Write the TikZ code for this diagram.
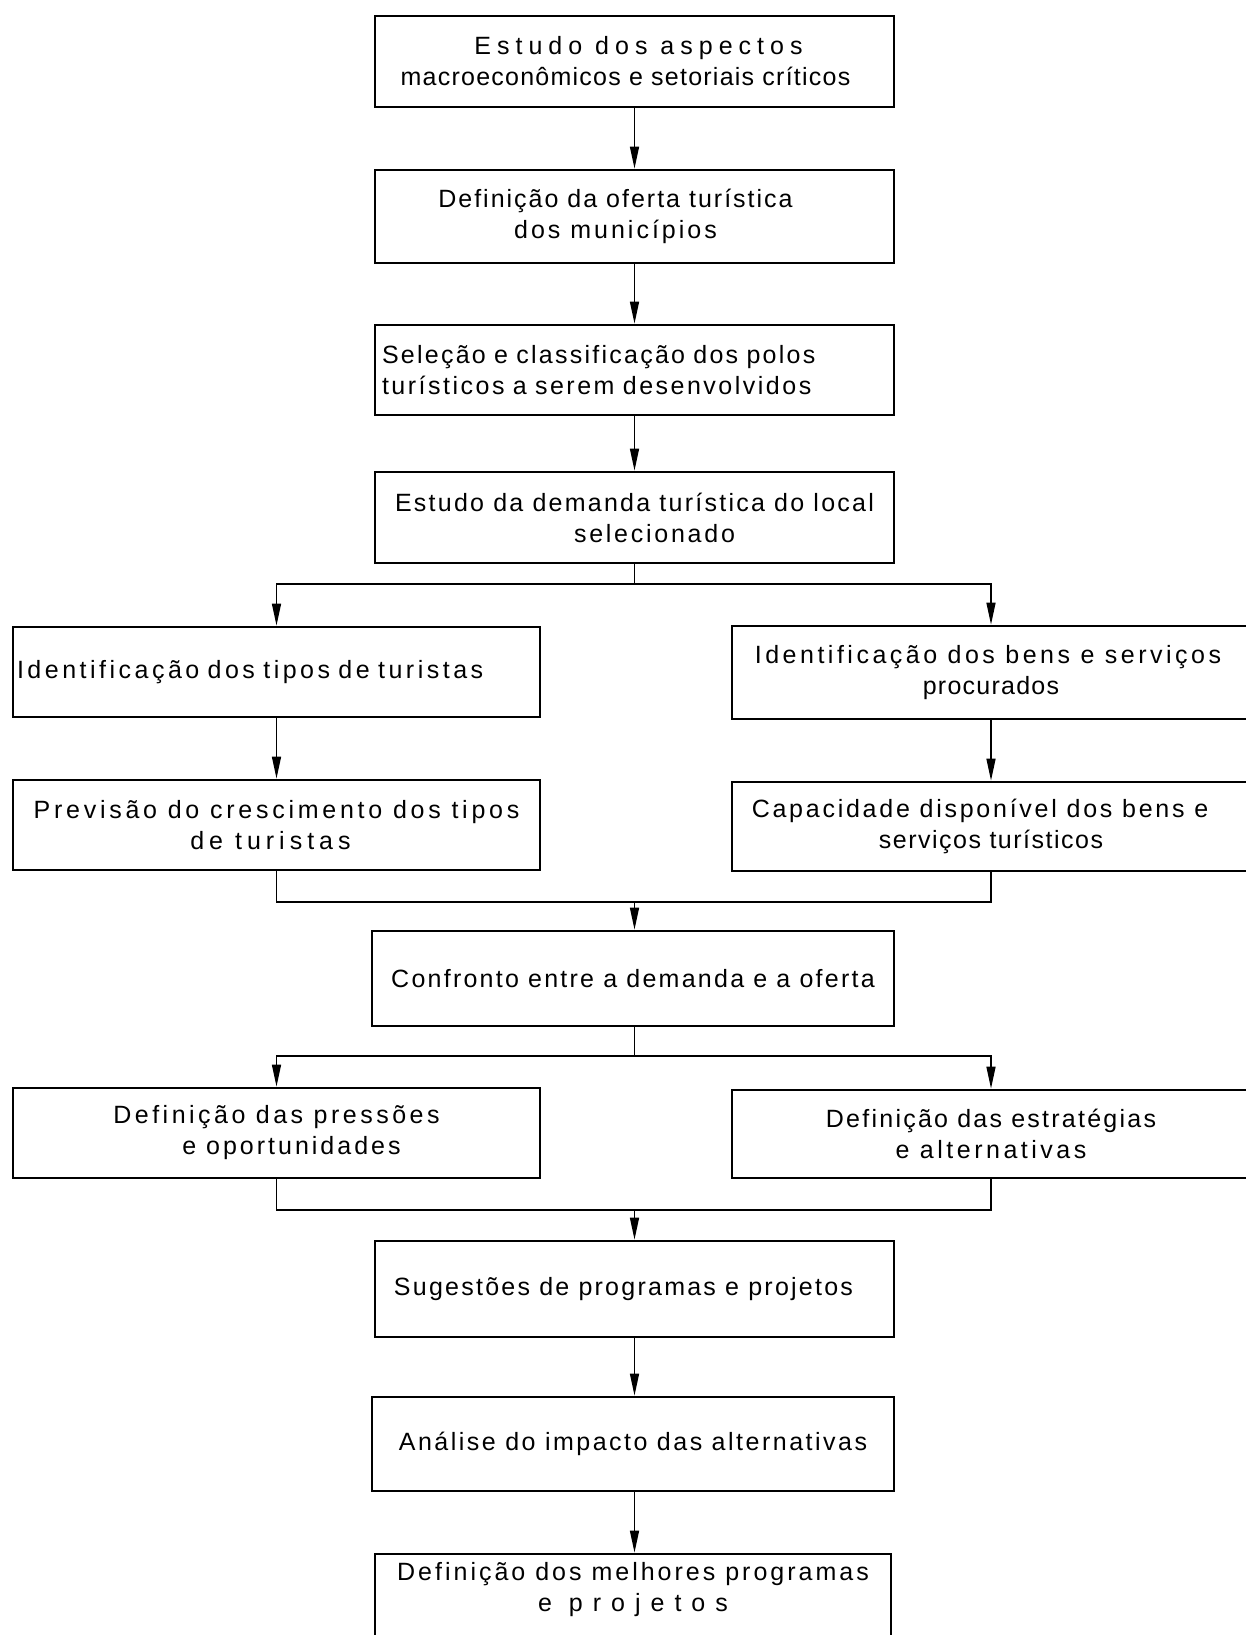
\documentclass[tikz,border=0pt]{standalone}
\usepackage{fontspec}
\setmainfont{Liberation Sans}[LetterSpace=5]
\usetikzlibrary{arrows.meta}
\newcommand\ls[2]{{\addfontfeature{LetterSpace=#1}#2}}
\begin{document}
\begin{tikzpicture}[x=1pt,y=-1pt,
  box/.style={draw, line width=2.8pt, inner sep=3pt, align=center,
    font=\fontsize{25}{31}\selectfont},
  conn/.style={line width=1.5pt},
  arr/.style={conn, -{Triangle[length=22pt,width=9pt]}}]
\useasboundingbox (0,0) rectangle (1246,1635);
\clip (0,0) rectangle (1246,1635);
\fill[white] (0,0) rectangle (1246,1635);

% central column
\node[box, minimum width=519pt, minimum height=91pt] (b1) at (634.5,61.5)
  {\hspace*{8pt}\ls{24}{Estudo dos aspectos}\\macroeconômicos e setoriais críticos\hspace*{18pt}};
\node[box, minimum width=519pt, minimum height=93pt] (b2) at (634.5,216.5)
  {\ls{8}{Definição da oferta turística}\hspace*{38pt}\\\ls{12}{dos municípios}\hspace*{38pt}};
\node[box, minimum width=519pt, minimum height=90pt, text width=505pt, align=left] (b3) at (634.5,370)
  {\ls{9}{Seleção e classificação dos polos}\\\ls{10}{turísticos a serem desenvolvidos}};
\node[box, minimum width=519pt, minimum height=91pt] (b4) at (634.5,517.5)
  {\ls{9}{Estudo da demanda turística do local}\\\hspace*{40pt}\ls{11}{selecionado}};

% first split
\node[box, minimum width=527pt, minimum height=90pt, text width=519pt, align=left] (l5) at (276.5,672)
  {\ls{14}{Identificação dos tipos de turistas}};
\node[box, minimum width=518pt, minimum height=93pt] (r5) at (991,672.5)
  {\ls{14}{Identificação dos bens e serviços}\hspace*{6pt}\\procurados};
\node[box, minimum width=527pt, minimum height=90pt] (l6) at (276.5,825)
  {\ls{15}{Previsão do crescimento dos tipos}\\\ls{20}{de turistas}\hspace*{12pt}};
\node[box, minimum width=518pt, minimum height=89pt] (r6) at (991,826.5)
  {\ls{11}{Capacidade disponível dos bens e}\hspace*{22pt}\\\ls{6}{serviços turísticos}};

\node[box, minimum width=522pt, minimum height=95pt] (b7) at (633,978.5)
  {\ls{9}{Confronto entre a demanda e a oferta}};

% second split
\node[box, minimum width=527pt, minimum height=90pt] (l8) at (276.5,1133)
  {\ls{14}{Definição das pressões}\\\hspace*{30pt}\ls{12}{e oportunidades}};
\node[box, minimum width=518pt, minimum height=88pt] (r8) at (991,1134)
  {\ls{9}{Definição das estratégias}\\\ls{14}{e alternativas}};

\node[box, minimum width=519pt, minimum height=96pt] (b9) at (634.5,1289)
  {\ls{9}{Sugestões de programas e projetos}\hspace*{22pt}};
\node[box, minimum width=522pt, minimum height=94pt] (b10) at (633,1444)
  {\ls{10}{Análise do impacto das alternativas}};
\node[box, minimum width=516pt, minimum height=106pt] (b11) at (633,1607)
  {\ls{12}{Definição dos melhores programas}\\\ls{40}{e projetos}\\\strut};

% connectors
\draw[arr] (b1) -- (b2);
\draw[arr] (b2) -- (b3);
\draw[arr] (b3) -- (b4);

\coordinate (s1) at (634.5,584);
\draw[conn] (b4.south) -- (s1);
\draw[arr] (s1) -| (l5.north);
\draw[arr] (s1) -| (r5.north);
\draw[arr] (l5) -- (l6);
\draw[arr] (r5) -- (r6);

\coordinate (m1) at (634.5,902);
\draw[conn] (l6.south) |- (m1);
\draw[conn] (r6.south) |- (m1);
\draw[arr] (m1) -- (m1 |- b7.north);

\coordinate (s2) at (634.5,1056);
\draw[conn] (s2 |- b7.south) -- (s2);
\draw[arr] (s2) -| (l8.north);
\draw[arr] (s2) -| (r8.north);

\coordinate (m2) at (634.5,1210);
\draw[conn] (l8.south) |- (m2);
\draw[conn] (r8.south) |- (m2);
\draw[arr] (m2) -- (b9.north);

\draw[arr] (b9) -- (b9 |- b10.north);
\draw[arr] (b9 |- b10.south) -- (b9 |- b11.north);
\end{tikzpicture}
\end{document}
